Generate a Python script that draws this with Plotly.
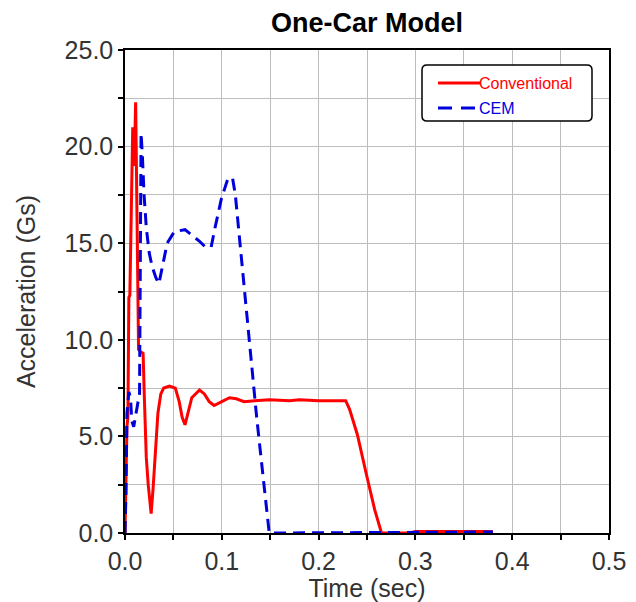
import plotly.graph_objects as go

# ---- data ----
conv_t = [0.000, 0.001, 0.002, 0.003, 0.004, 0.005, 0.006, 0.008, 0.0095, 0.011,
          0.0125, 0.014, 0.0156, 0.0187, 0.020, 0.022, 0.024, 0.027, 0.029, 0.032,
          0.034, 0.037, 0.040, 0.046, 0.052, 0.056, 0.059, 0.062, 0.065, 0.069,
          0.077, 0.082, 0.087, 0.092, 0.100, 0.108, 0.115, 0.123, 0.134, 0.149,
          0.170, 0.180, 0.200, 0.228, 0.232, 0.240, 0.250, 0.258, 0.265, 0.295,
          0.300, 0.380]
conv_g = [0.0, 3.0, 5.5, 6.0, 12.2, 12.3, 16.0, 21.0, 19.0, 22.3,
          16.0, 9.5, 9.4, 9.3, 7.0, 3.9, 2.5, 1.0, 2.3, 4.4,
          6.2, 7.2, 7.5, 7.6, 7.5, 6.8, 6.0, 5.6, 6.2, 7.0,
          7.4, 7.2, 6.8, 6.6, 6.8, 7.0, 6.95, 6.8, 6.85, 6.9,
          6.85, 6.9, 6.85, 6.85, 6.4, 5.1, 2.9, 1.2, 0.0, 0.0,
          0.08, 0.08]

cem_t = [0.000, 0.001, 0.002, 0.004, 0.0057, 0.007, 0.009, 0.0114, 0.0135, 0.015,
         0.0166, 0.018, 0.0197, 0.022, 0.025, 0.028, 0.032, 0.035, 0.039, 0.0436,
         0.051, 0.062, 0.0695, 0.077, 0.083, 0.089, 0.093, 0.0996, 0.106, 0.111,
         0.114, 0.118, 0.1255, 0.136, 0.144, 0.149, 0.380]
cem_g = [0.0, 2.0, 6.2, 7.3, 7.0, 5.8, 5.5, 6.2, 6.8, 7.0,
         20.7, 19.5, 17.5, 15.8, 14.5, 13.8, 13.2, 12.9, 13.8, 15.0,
         15.6, 15.7, 15.4, 15.1, 14.8, 14.8, 15.8, 17.3, 18.3, 18.4,
         17.5, 15.4, 11.3, 6.0, 2.3, 0.0, 0.05]

x_ticks = [i * 0.05 for i in range(11)]
x_labels = [f"{v:.1f}" if i % 2 == 0 else "" for i, v in enumerate(x_ticks)]
y_ticks = [i * 2.5 for i in range(11)]
y_labels = [f"{v:.1f}" if i % 2 == 0 else "" for i, v in enumerate(y_ticks)]

RED = "#ff0000"
BLUE = "#0000dd"
FONT = "Liberation Sans, Arial, sans-serif"

fig = go.Figure()
fig.add_trace(go.Scatter(x=conv_t, y=conv_g, mode="lines", name="Conventional",
                         line=dict(color=RED, width=3)))
fig.add_trace(go.Scatter(x=cem_t, y=cem_g, mode="lines", name="CEM",
                         line=dict(color=BLUE, width=3, dash="12px,7px")))

axis_common = dict(
    showgrid=True, gridcolor="#bdbdbd", gridwidth=1,
    showline=True, linecolor="black", linewidth=1.5, mirror=True,
    ticks="outside", ticklen=5, tickcolor="black", tickwidth=1.5,
    zeroline=False, automargin=False,
    tickfont=dict(family=FONT, size=25, color="#333333"),
)

# the page body has an 8px margin, so the figure is sized / offset to fit
fig.update_layout(
    width=628, height=594,
    margin=dict(l=117, r=27, t=42, b=69),
    paper_bgcolor="white", plot_bgcolor="white",
    showlegend=False,
    title=dict(text="<b>One-Car Model</b>", x=359 / 628, xanchor="center",
               y=1 - 15 / 594, yanchor="middle", yref="container",
               font=dict(family=FONT, size=27, color="black")),
    xaxis=dict(range=[0, 0.5], tickvals=x_ticks, ticktext=x_labels,
               title=dict(text="Time (sec)", standoff=10,
                          font=dict(family=FONT, size=25, color="#333333")),
               **axis_common),
    yaxis=dict(range=[0, 25], tickvals=y_ticks, ticktext=y_labels,
               title=dict(text="Acceleration (Gs)", standoff=22,
                          font=dict(family=FONT, size=25, color="#333333")),
               **axis_common),
)

# ---- legend box (drawn manually to match the reference) ----
def px_x(p):
    return (p - 125) / 484.0

def px_y(p):
    return (533 - p) / 483.0

x0, x1, y0, y1, r = 422, 592, 65, 121, 5
path = (f"M {px_x(x0 + r)},{px_y(y0)} L {px_x(x1 - r)},{px_y(y0)} "
        f"Q {px_x(x1)},{px_y(y0)} {px_x(x1)},{px_y(y0 + r)} "
        f"L {px_x(x1)},{px_y(y1 - r)} Q {px_x(x1)},{px_y(y1)} {px_x(x1 - r)},{px_y(y1)} "
        f"L {px_x(x0 + r)},{px_y(y1)} Q {px_x(x0)},{px_y(y1)} {px_x(x0)},{px_y(y1 - r)} "
        f"L {px_x(x0)},{px_y(y0 + r)} Q {px_x(x0)},{px_y(y0)} {px_x(x0 + r)},{px_y(y0)} Z")
fig.add_shape(type="path", path=path, xref="paper", yref="paper",
              line=dict(color="black", width=1.5), fillcolor="white", layer="above")
fig.add_shape(type="line", xref="paper", yref="paper",
              x0=px_x(438), x1=px_x(480), y0=px_y(83), y1=px_y(83),
              line=dict(color=RED, width=3), layer="above")
fig.add_shape(type="line", xref="paper", yref="paper",
              x0=px_x(438), x1=px_x(482), y0=px_y(108), y1=px_y(108),
              line=dict(color=BLUE, width=3, dash="14px,9px"), layer="above")
fig.add_annotation(text="Conventional", xref="paper", yref="paper",
                   x=px_x(477), y=px_y(83), xanchor="left", yanchor="middle",
                   showarrow=False, font=dict(family=FONT, size=16, color=RED))
fig.add_annotation(text="CEM", xref="paper", yref="paper",
                   x=px_x(477), y=px_y(108), xanchor="left", yanchor="middle",
                   showarrow=False, font=dict(family=FONT, size=16, color=BLUE))

fig.write_html("out.html")
